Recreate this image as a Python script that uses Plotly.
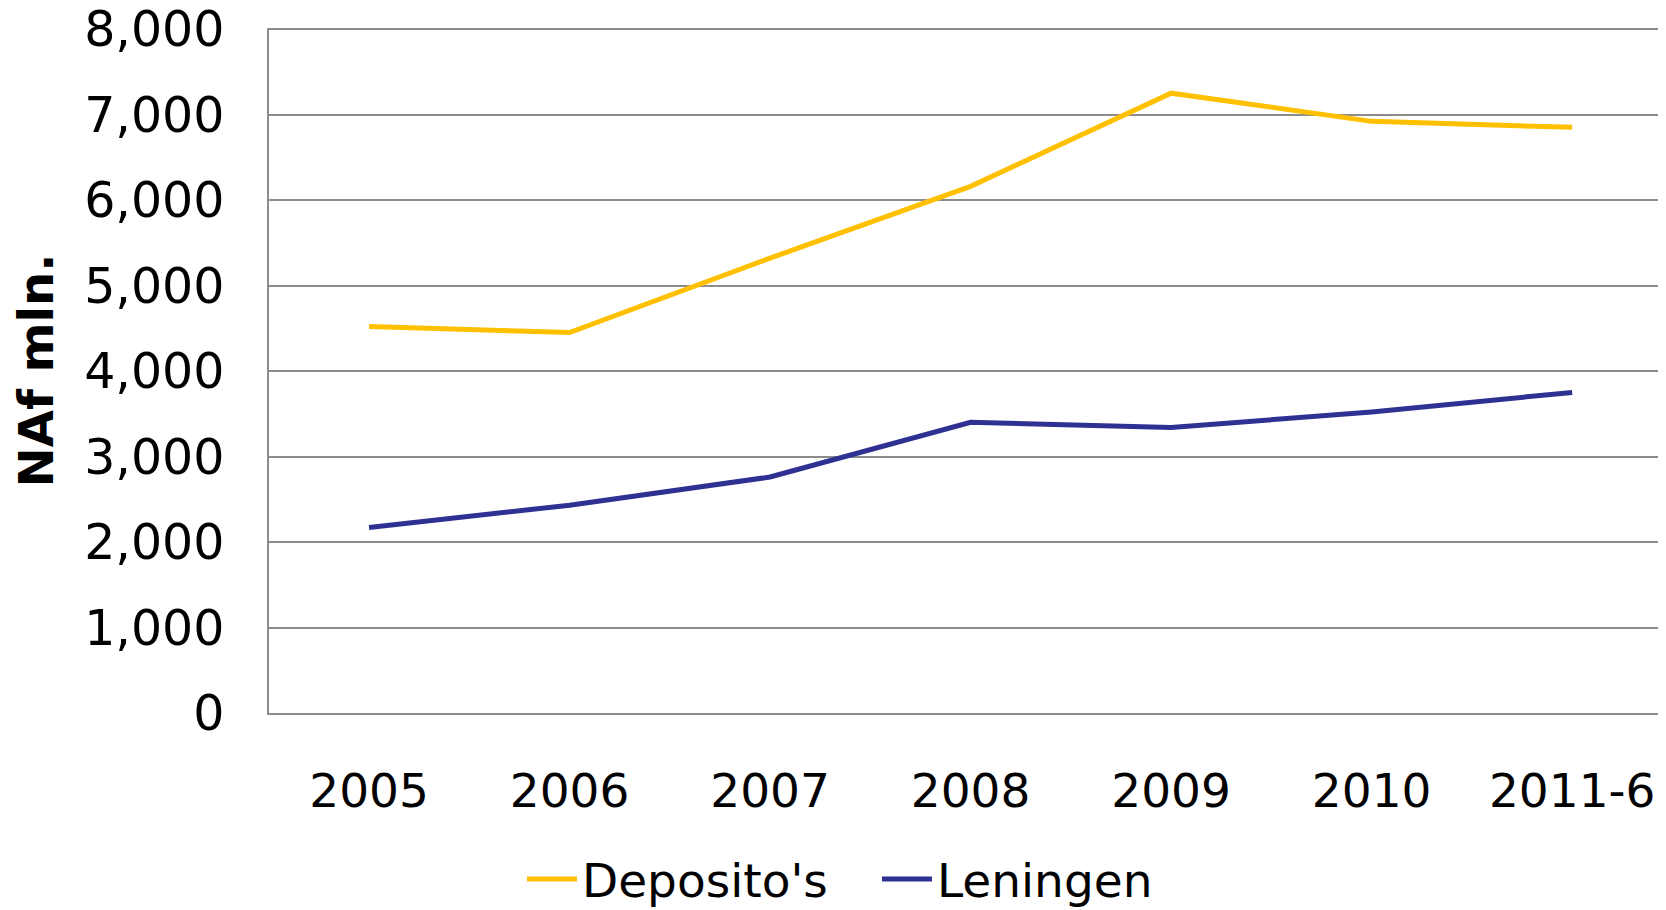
import plotly.graph_objects as go

categories = ["2005", "2006", "2007", "2008", "2009", "2010", "2011-6"]
depositos = [4520, 4450, 5320, 6160, 7250, 6920, 6850]
leningen = [2170, 2430, 2760, 3400, 3340, 3520, 3750]
y_ticks = [0, 1000, 2000, 3000, 4000, 5000, 6000, 7000, 8000]
y_tick_labels = ["0", "1,000", "2,000", "3,000", "4,000", "5,000", "6,000", "7,000", "8,000"]

FONT = "DejaVu Sans"
GRID = "#8c8c8c"

fig = go.Figure()
fig.add_trace(go.Scatter(x=categories, y=depositos, mode="lines", name="Deposito's",
                         line=dict(color="#FFC000", width=5)))
fig.add_trace(go.Scatter(x=categories, y=leningen, mode="lines", name="Leningen",
                         line=dict(color="#2E3192", width=5)))

# page body has an 8px margin, so the figure is sized to fit the remaining window
fig.update_layout(
    width=1658, height=902,
    margin=dict(l=261, r=0, t=20, b=197),
    paper_bgcolor="white", plot_bgcolor="white",
    font=dict(family=FONT, size=47, color="black"),
    showlegend=True,
    legend=dict(orientation="h", xref="container", yref="container",
                x=0.31, xanchor="left", y=0.034, yanchor="middle",
                font=dict(family=FONT, size=47), itemwidth=50,
                entrywidth=290, entrywidthmode="pixels",
                bgcolor="rgba(0,0,0,0)"),
    xaxis=dict(type="category", range=[-0.499, 6.468], showgrid=False,
               showline=True, linecolor=GRID, linewidth=1.5,
               ticks="", ticklabelstandoff=36, automargin=False,
               ticklabeloverflow="allow",
               tickfont=dict(family=FONT, size=47)),
    yaxis=dict(range=[0, 8012], tickvals=y_ticks, ticktext=y_tick_labels,
               showgrid=True, gridcolor=GRID, gridwidth=1.5,
               showline=True, linecolor=GRID, linewidth=1.5,
               zeroline=False, ticks="", ticklabelstandoff=33,
               ticklabeloverflow="allow", automargin=False,
               tickfont=dict(family=FONT, size=49),
               title=dict(text="<b>NAf mln.</b>", standoff=19,
                          font=dict(family=FONT, size=48))),
)

fig.write_html("out.html")
